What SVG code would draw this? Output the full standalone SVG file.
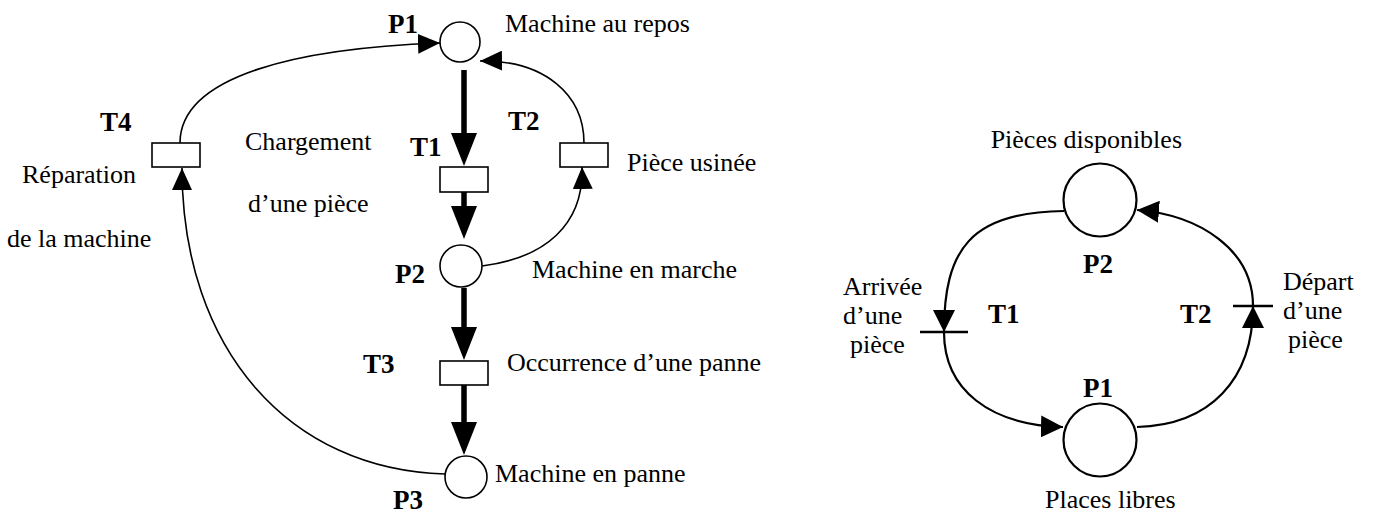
<svg xmlns="http://www.w3.org/2000/svg" width="1391" height="515" viewBox="0 0 1391 515">
<style>
text{font-family:"Liberation Serif","Times New Roman",Times,serif;fill:#000}
.t{font-size:26px}
.b{font-size:27px;font-weight:bold}
.pl{fill:#fff;stroke:#000;stroke-width:1.6}
.tr{fill:#fff;stroke:#000;stroke-width:1.6}
.thin{fill:none;stroke:#000;stroke-width:1.6}
.thick{fill:none;stroke:#000;stroke-width:5.5}
.pl2{fill:#fff;stroke:#000;stroke-width:2.2}
.arc2{fill:none;stroke:#000;stroke-width:2.2}
.bar{stroke:#000;stroke-width:2.4}
</style>
<defs>
<marker id="ah" markerWidth="22" markerHeight="20" refX="22" refY="10" orient="auto" markerUnits="userSpaceOnUse"><path d="M0,0 L22,10 L0,20 z" fill="#000"/></marker>
<marker id="ah2" markerWidth="22" markerHeight="22" refX="22" refY="11" orient="auto" markerUnits="userSpaceOnUse"><path d="M0,0 L22,11 L0,22 z" fill="#000"/></marker>
<marker id="ahT" markerWidth="33" markerHeight="26" refX="3" refY="13" orient="auto" markerUnits="userSpaceOnUse"><path d="M0,0 L33,13 L0,26 z" fill="#000"/></marker>
</defs>

<g id="connectors">
<line class="thick" x1="464" y1="70" x2="464" y2="136" marker-end="url(#ahT)"/>
<line class="thick" x1="464" y1="192" x2="464" y2="209" marker-end="url(#ahT)"/>
<line class="thick" x1="464" y1="288" x2="464" y2="330" marker-end="url(#ahT)"/>
<line class="thick" x1="464" y1="385" x2="464" y2="425" marker-end="url(#ahT)"/>
<path class="thin" d="M482,266 C545,258 584,225 582,167" marker-end="url(#ah)"/>
<path class="thin" d="M584,143 C584,95 545,60 480,61" marker-end="url(#ah)"/>
<path class="thin" d="M180,143 C180,75 300,48 440,43" marker-end="url(#ah)"/>
<path class="thin" d="M445,474 C290,470 182,350 182,168" marker-end="url(#ah)"/>
<path class="arc2" d="M1064,211 C970,212 944,250 944,332" marker-end="url(#ah2)"/>
<path class="arc2" d="M944,332 C944,390 990,425 1063,427" marker-end="url(#ah2)"/>
<path class="arc2" d="M1137,427 C1210,425 1253,380 1253,306" marker-end="url(#ah2)"/>
<path class="arc2" d="M1253,306 C1253,250 1200,215 1137,210" marker-end="url(#ah2)"/>
</g>

<g id="L-P1"><circle class="pl" cx="460" cy="42" r="20"/><text class="b" x="388" y="33">P1</text><text class="t" x="505" y="32">Machine au repos</text></g>
<g id="L-T1"><rect class="tr" x="440" y="167" width="48" height="25"/><text class="b" x="410" y="156">T1</text><text class="t" x="245" y="150">Chargement</text><text class="t" x="248" y="212">d’une pièce</text></g>
<g id="L-T2"><rect class="tr" x="560" y="143" width="48" height="24"/><text class="b" x="508" y="130">T2</text><text class="t" x="627" y="171">Pièce usinée</text></g>
<g id="L-T4"><rect class="tr" x="152" y="143" width="48" height="24"/><text class="b" x="100" y="131">T4</text><text class="t" x="22" y="183">Réparation</text><text class="t" x="7" y="247">de la machine</text></g>
<g id="L-P2"><circle class="pl" cx="461" cy="266" r="21"/><text class="b" x="395" y="283">P2</text><text class="t" x="532" y="278">Machine en marche</text></g>
<g id="L-T3"><rect class="tr" x="440" y="361" width="48" height="24"/><text class="b" x="363" y="373">T3</text><text class="t" x="507" y="371">Occurrence d’une panne</text></g>
<g id="L-P3"><circle class="pl" cx="466" cy="477" r="21"/><text class="b" x="393" y="509">P3</text><text class="t" x="495" y="482">Machine en panne</text></g>

<g id="R-P2"><circle class="pl2" cx="1100" cy="200" r="36.5"/><text class="b" x="1083" y="273">P2</text><text class="t" x="1182" y="148" text-anchor="end">Pièces disponibles</text></g>
<g id="R-P1"><circle class="pl2" cx="1100" cy="440" r="36.5"/><text class="b" x="1083" y="397">P1</text><text class="t" x="1045" y="508">Places libres</text></g>
<g id="R-T1"><line class="bar" x1="920" y1="332" x2="968" y2="332"/><text class="b" x="988" y="323">T1</text><text class="t" x="843" y="295">Arrivée</text><text class="t" x="843" y="324">d’une</text><text class="t" x="850" y="353">pièce</text></g>
<g id="R-T2"><line class="bar" x1="1233" y1="306" x2="1273" y2="306"/><text class="b" x="1180" y="323">T2</text><text class="t" x="1283" y="290">Départ</text><text class="t" x="1283" y="319">d’une</text><text class="t" x="1288" y="348">pièce</text></g>
</svg>
